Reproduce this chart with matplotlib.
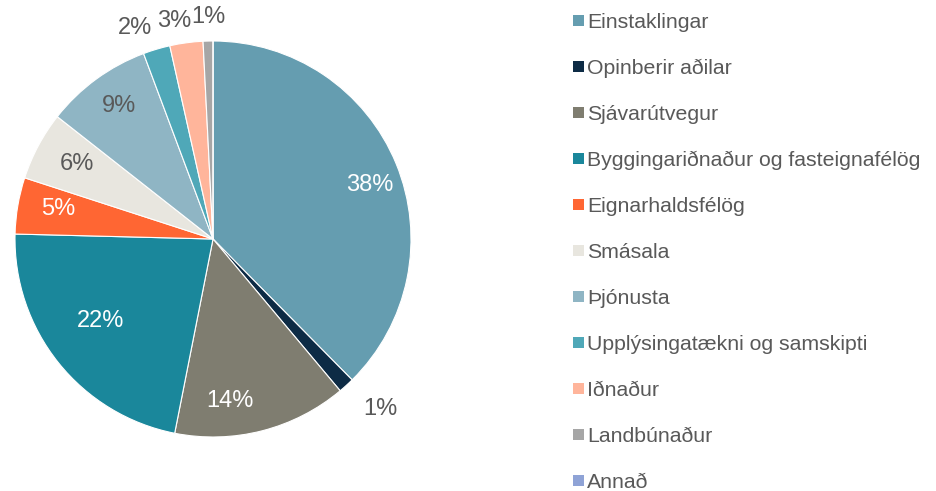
import numpy as np
import matplotlib
matplotlib.use("Agg")
import matplotlib.pyplot as plt
from matplotlib.patches import Rectangle

plt.rcParams['font.family'] = ['Liberation Sans', 'DejaVu Sans']

# data (%)
categories = ["Einstaklingar", "Opinberir aðilar", "Sjávarútvegur",
              "Byggingariðnaður og fasteignafélög", "Eignarhaldsfélög",
              "Smásala", "Þjónusta", "Upplýsingatækni og samskipti",
              "Iðnaður", "Landbúnaður", "Annað"]
shares = [37.6, 1.3, 14.2, 22.3, 4.6, 5.6, 8.7, 2.2, 2.7, 0.8, 0.0]
pct_labels = ["38%", "1%", "14%", "22%", "5%", "6%", "9%", "2%", "3%", "1%", ""]

colors = ["#659DB0", "#0D2B45", "#7F7D70", "#1A879B", "#FF6633",
          "#E8E6DF", "#8FB5C4", "#4FA8B8", "#FFB59B", "#A6A6A6", "#8FA3D6"]

# label placement: radius factor, angle shift (deg) from wedge middle, colour
lab_r = [0.838, 1.204, 0.825, 0.703, 0.797, 0.784, 0.824, 1.134, 1.118, 1.121, 1.1]
lab_da = [-3.5, 2.2, -8.4, -2.6, -1.3, -0.8, -0.8, 3.7, 2.4, -0.2, 0]
lab_c = ["white", "#595959", "white", "white", "white", "#595959",
         "#595959", "#595959", "#595959", "#595959", "#595959"]

W, H = 937, 491
fig = plt.figure(figsize=(W/100, H/100), dpi=100)
ax = fig.add_axes([15/W, 54/H, 396/W, 396/H])

wedges, _ = ax.pie(shares, colors=colors, startangle=90, counterclock=False,
                   radius=1, wedgeprops=dict(edgecolor="white", linewidth=0.8))
ax.set_xlim(-1, 1)
ax.set_ylim(-1, 1)
ax.set_aspect("equal")

for w, lab, r, da, c in zip(wedges, pct_labels, lab_r, lab_da, lab_c):
    if not lab:
        continue
    ang = np.deg2rad((w.theta1 + w.theta2) / 2 + da)
    ax.text(r*np.cos(ang), r*np.sin(ang), lab, ha="center", va="center",
            fontsize=17, color=c)

# legend, one row every 46 px
for i, (cat, col) in enumerate(zip(categories, colors)):
    yc = 20.7 + 46*i
    fig.patches.append(Rectangle((573/W, 1 - (yc + 5.5)/H), 11/W, 11/H,
                                 transform=fig.transFigure, facecolor=col,
                                 edgecolor="none"))
    fig.text(587/W, 1 - (yc + 7.6)/H, cat, fontsize=15.3, color="#595959",
             ha="left", va="baseline")

fig.savefig("out.png", dpi=100)
